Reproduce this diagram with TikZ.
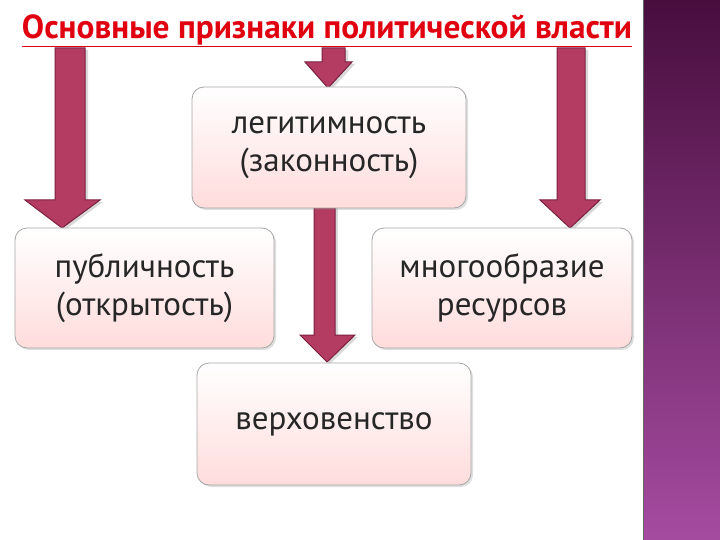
\documentclass[tikz,border=0pt]{standalone}
\usepackage{fontspec}
\setmainfont{PT Sans}
\usetikzlibrary{shadows}
\definecolor{arr}{HTML}{B43C62}
\definecolor{arrd}{HTML}{7A2040}
\definecolor{titlered}{HTML}{E00010}
\tikzset{
  box/.style={draw=gray!70, line width=0.8pt, rounded corners=12pt, top color=white, bottom color=pink!55!white, minimum width=#1, align=center, font=\fontsize{33}{38}\selectfont, text=black!85, drop shadow={shadow xshift=2pt,shadow yshift=-2pt,opacity=0.25}},
  arrowshape/.style={fill=arr, draw=arrd, line width=1pt, drop shadow={shadow xshift=3pt,shadow yshift=-2pt,opacity=0.3}}
}
\begin{document}
\begin{tikzpicture}[x=1pt,y=-1pt]
\useasboundingbox (0,0) rectangle (720,540);
\shade[top color={rgb,255:red,72;green,14;blue,62}, bottom color={rgb,255:red,165;green,75;blue,160}] (643,0) rectangle (720,540);
\draw[black!60, line width=1pt] (643,0) -- (643,540);
\node[text=titlered, font=\bfseries\fontsize{27}{30}\selectfont, anchor=center] (title) at (327,31) {\resizebox{610pt}{!}{\underline{Основные признаки политической власти}}};
% arrows
\path[arrowshape] (55,48) -- (85,48) -- (85,200) -- (100,200) -- (62,228) -- (25,200) -- (55,200) -- cycle;
\path[arrowshape] (322,48) -- (345,48) -- (345,62) -- (352,62) -- (328,88) -- (305,62) -- (322,62) -- cycle;
\path[arrowshape] (557,48) -- (585,48) -- (585,200) -- (600,200) -- (570,228) -- (540,200) -- (557,200) -- cycle;
\path[arrowshape] (314,205) -- (335,205) -- (335,335) -- (355,335) -- (327,362) -- (300,335) -- (314,335) -- cycle;
% boxes
\node[box=274pt, minimum height=121pt] (leg) at (329,147.5) {легитимность\\(законность)};
\node[box=259pt, minimum height=120pt] (pub) at (144.5,288) {публичность\\(открытость)};
\node[box=260pt, minimum height=120pt] (res) at (502,288) {многообразие\\ресурсов};
\node[box=274pt, minimum height=122pt] (ver) at (334,424) {верховенство};
\end{tikzpicture}
\end{document}
